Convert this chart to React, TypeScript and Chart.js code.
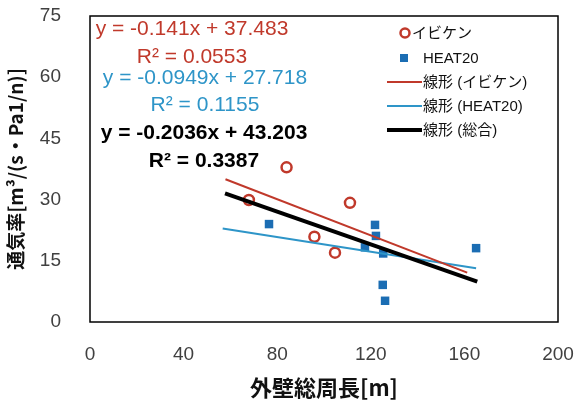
import React, { useEffect, useRef } from 'react';
import { Chart, registerables } from 'chart.js';

Chart.register(...registerables);

// ---- data ----
const ibikenX = [67.9, 84.0, 95.9, 104.7, 111.1];
const ibikenY = [29.9, 37.9, 20.9, 17.0, 29.2];
const heatX = [76.5, 121.8, 122.2, 117.5, 125.3, 125.1, 126.1, 165.0];
const heatY = [24.0, 23.8, 21.1, 18.3, 16.8, 9.1, 5.2, 18.1];
const trendIbikenX = [57.9, 161.2];
const trendIbikenY = [35.0, 12.1];
const trendHeatX = [56.7, 165.0];
const trendHeatY = [22.9, 13.2];
const trendAllX = [57.7, 165.5];
const trendAllY = [31.5, 9.9];
const xTickValues = [0, 40, 80, 120, 160, 200];
const yTickValues = [0, 15, 30, 45, 60, 75];
const seriesNames = ['イビケン', 'HEAT20', '線形 (イビケン)', '線形 (HEAT20)', '線形 (総合)'];
const eqIbiken = ['y = -0.141x + 37.483', 'R² = 0.0553'];
const eqHeat = ['y = -0.0949x + 27.718', 'R² = 0.1155'];
const eqAll = ['y = -0.2036x + 43.203', 'R² = 0.3387'];
const xTitle = '外壁総周長[m]';
const yTitle = '通気率[m³/(s・Pa1/n)]';

const RED = '#C0392B';
const BLUE_MK = '#1B6DB3';
const BLUE_LN = '#2E95C8';
const BLACK = '#000000';
const LATIN = "'Liberation Sans', 'Noto Sans CJK JP', sans-serif";
const CJK = "'Noto Sans CJK JP', 'Liberation Sans', sans-serif";

const toPts = (xs: number[], ys: number[]) => xs.map((x, i) => ({ x, y: ys[i] }));

const boxPlugin = {
  id: 'plotBox',
  afterDraw(chart: any) {
    const { ctx, chartArea: a } = chart;
    ctx.save();
    ctx.strokeStyle = '#000';
    ctx.lineWidth = 1.5;
    ctx.strokeRect(a.left, a.top, a.right - a.left, a.bottom - a.top);
    ctx.restore();
  },
};

const annotPlugin = {
  id: 'annot',
  afterDraw(chart: any) {
    const { ctx } = chart;
    ctx.save();
    // equations
    const eqs: [string[], string, string, number, number[]][] = [
      [eqIbiken, RED, 'normal', 192, [29, 57]],
      [eqHeat, BLUE_LN, 'normal', 205, [78, 105]],
      [eqAll, BLACK, 'bold', 204, [133, 161]],
    ];
    ctx.textAlign = 'center';
    ctx.textBaseline = 'middle';
    eqs.forEach(([lines, color, weight, cx, ys]) => {
      ctx.fillStyle = color;
      ctx.font = `${weight} 21px ${LATIN}`;
      lines.forEach((t, i) => ctx.fillText(t, cx, ys[i]));
    });

    // legend
    const rows = [33, 58, 82, 106, 130];
    const textX = [412, 423, 423, 423, 423];
    ctx.textAlign = 'left';
    ctx.font = `15px ${LATIN}`;
    ctx.strokeStyle = RED;
    ctx.lineWidth = 2.5;
    ctx.beginPath();
    ctx.arc(405, rows[0], 4.5, 0, Math.PI * 2);
    ctx.stroke();
    ctx.fillStyle = BLUE_MK;
    ctx.fillRect(400, rows[1] - 4, 8, 8);
    const lineStyles: [string, number][] = [
      [RED, 2],
      [BLUE_LN, 2],
      [BLACK, 4],
    ];
    lineStyles.forEach(([c, w], i) => {
      ctx.strokeStyle = c;
      ctx.lineWidth = w;
      ctx.beginPath();
      ctx.moveTo(387, rows[i + 2]);
      ctx.lineTo(422, rows[i + 2]);
      ctx.stroke();
    });
    ctx.fillStyle = '#111';
    seriesNames.forEach((n, i) => ctx.fillText(n, textX[i], rows[i] + 1));
    ctx.restore();
  },
};

export default function App() {
  const ref = useRef<HTMLCanvasElement | null>(null);
  useEffect(() => {
    if (!ref.current) return;
    const chart = new Chart(ref.current, {
      type: 'scatter',
      data: {
        datasets: [
          {
            type: 'line',
            label: seriesNames[4],
            data: toPts(trendAllX, trendAllY),
            borderColor: BLACK,
            borderWidth: 4,
            pointRadius: 0,
            fill: false,
          },
          {
            type: 'line',
            label: seriesNames[2],
            data: toPts(trendIbikenX, trendIbikenY),
            borderColor: RED,
            borderWidth: 2,
            pointRadius: 0,
            fill: false,
          },
          {
            type: 'line',
            label: seriesNames[3],
            data: toPts(trendHeatX, trendHeatY),
            borderColor: BLUE_LN,
            borderWidth: 2,
            pointRadius: 0,
            fill: false,
          },
          {
            label: seriesNames[0],
            data: toPts(ibikenX, ibikenY),
            pointStyle: 'circle',
            pointRadius: 5,
            borderWidth: 2.5,
            borderColor: RED,
            backgroundColor: 'rgba(255,255,255,0)',
          },
          {
            label: seriesNames[1],
            data: toPts(heatX, heatY),
            pointStyle: 'rect',
            pointRadius: 6,
            borderWidth: 0,
            borderColor: BLUE_MK,
            backgroundColor: BLUE_MK,
          },
        ],
      } as any,
      options: {
        animation: false,
        responsive: false,
        maintainAspectRatio: false,
        layout: { autoPadding: false, padding: { top: 16, right: 22, left: 0, bottom: 0 } },
        plugins: { legend: { display: false }, tooltip: { enabled: false } },
        scales: {
          x: {
            type: 'linear',
            min: 0,
            max: 200,
            afterBuildTicks: (s: any) => {
              s.ticks = xTickValues.map((v) => ({ value: v }));
            },
            grid: { display: false, drawTicks: false },
            border: { display: false },
            ticks: {
              padding: 21,
              color: '#404040',
              font: { family: LATIN, size: 19 },
              maxRotation: 0,
            },
            title: {
              display: true,
              text: xTitle,
              color: '#111',
              font: { family: CJK, size: 22, weight: 'bold' },
              padding: { top: 0, bottom: 7 },
            },
            afterFit: (s: any) => {
              s.height = 86;
              s.paddingLeft = 0;
              s.paddingRight = 0;
            },
          },
          y: {
            type: 'linear',
            min: 0,
            max: 75,
            afterBuildTicks: (s: any) => {
              s.ticks = yTickValues.map((v) => ({ value: v }));
            },
            grid: { display: false, drawTicks: false },
            border: { display: false },
            ticks: {
              padding: 29,
              color: '#404040',
              font: { family: LATIN, size: 19 },
            },
            title: {
              display: true,
              text: yTitle,
              color: '#111',
              font: { family: CJK, size: 19, weight: 'bold' },
              padding: { top: 4, bottom: 0 },
            },
            afterFit: (s: any) => {
              s.width = 90;
              s.paddingTop = 0;
              s.paddingBottom = 0;
            },
          },
        },
      } as any,
      plugins: [boxPlugin, annotPlugin],
    });
    return () => chart.destroy();
  }, []);
  return (
    <div style={{ position: 'absolute', left: 0, top: 0, width: 580, height: 408, background: '#fff' }}>
      <canvas ref={ref} width={580} height={408} style={{ width: 580, height: 408 }} />
    </div>
  );
}
